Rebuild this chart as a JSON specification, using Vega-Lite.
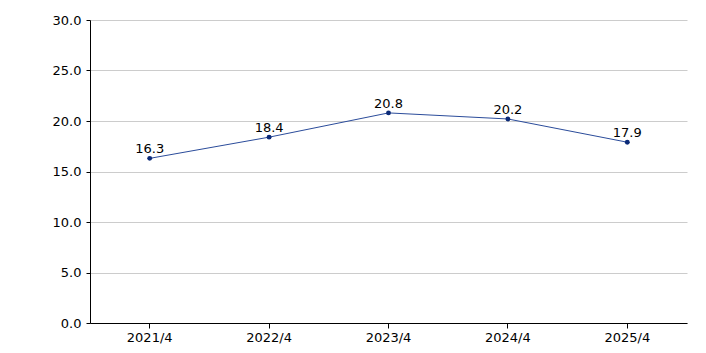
{
  "$schema": "https://vega.github.io/schema/vega-lite/v6.json",
  "autosize": "none",
  "width": 597,
  "height": 303,
  "padding": {"left": 90, "top": 20, "right": 19, "bottom": 30},
  "background": "white",
  "config": {
    "view": {"stroke": null},
    "font": "DejaVu Sans",
    "axis": {"labelFont": "DejaVu Sans", "labelFontSize": 13, "labelColor": "#000", "domainColor": "#000", "tickColor": "#000"}
  },
  "data": {"values": [
    {"period": "2021/4", "value": 16.3},
    {"period": "2022/4", "value": 18.4},
    {"period": "2023/4", "value": 20.8},
    {"period": "2024/4", "value": 20.2},
    {"period": "2025/4", "value": 17.9}
  ]},
  "encoding": {
    "x": {"field": "period", "type": "ordinal", "title": null,
      "scale": {"type": "band", "paddingInner": 0, "paddingOuter": 0},
      "axis": {"labelAngle": 0, "tickSize": 5, "labelPadding": 3, "grid": false, "domainWidth": 1}},
    "y": {"field": "value", "type": "quantitative", "title": null,
      "scale": {"domain": [0, 30]},
      "axis": {"values": [0, 5, 10, 15, 20, 25, 30], "format": ".1f", "tickSize": 4, "labelPadding": 5, "gridColor": "#cccccc", "grid": true}}
  },
  "layer": [
    {"mark": {"type": "line", "color": "#2b4c9b", "strokeWidth": 1}},
    {"mark": {"type": "point", "filled": true, "color": "#0b2a78", "size": 24, "opacity": 1}},
    {"mark": {"type": "text", "dy": -9, "fontSize": 13, "color": "#000", "font": "DejaVu Sans"},
      "encoding": {"text": {"field": "value", "type": "quantitative", "format": ".1f"}}}
  ]
}
